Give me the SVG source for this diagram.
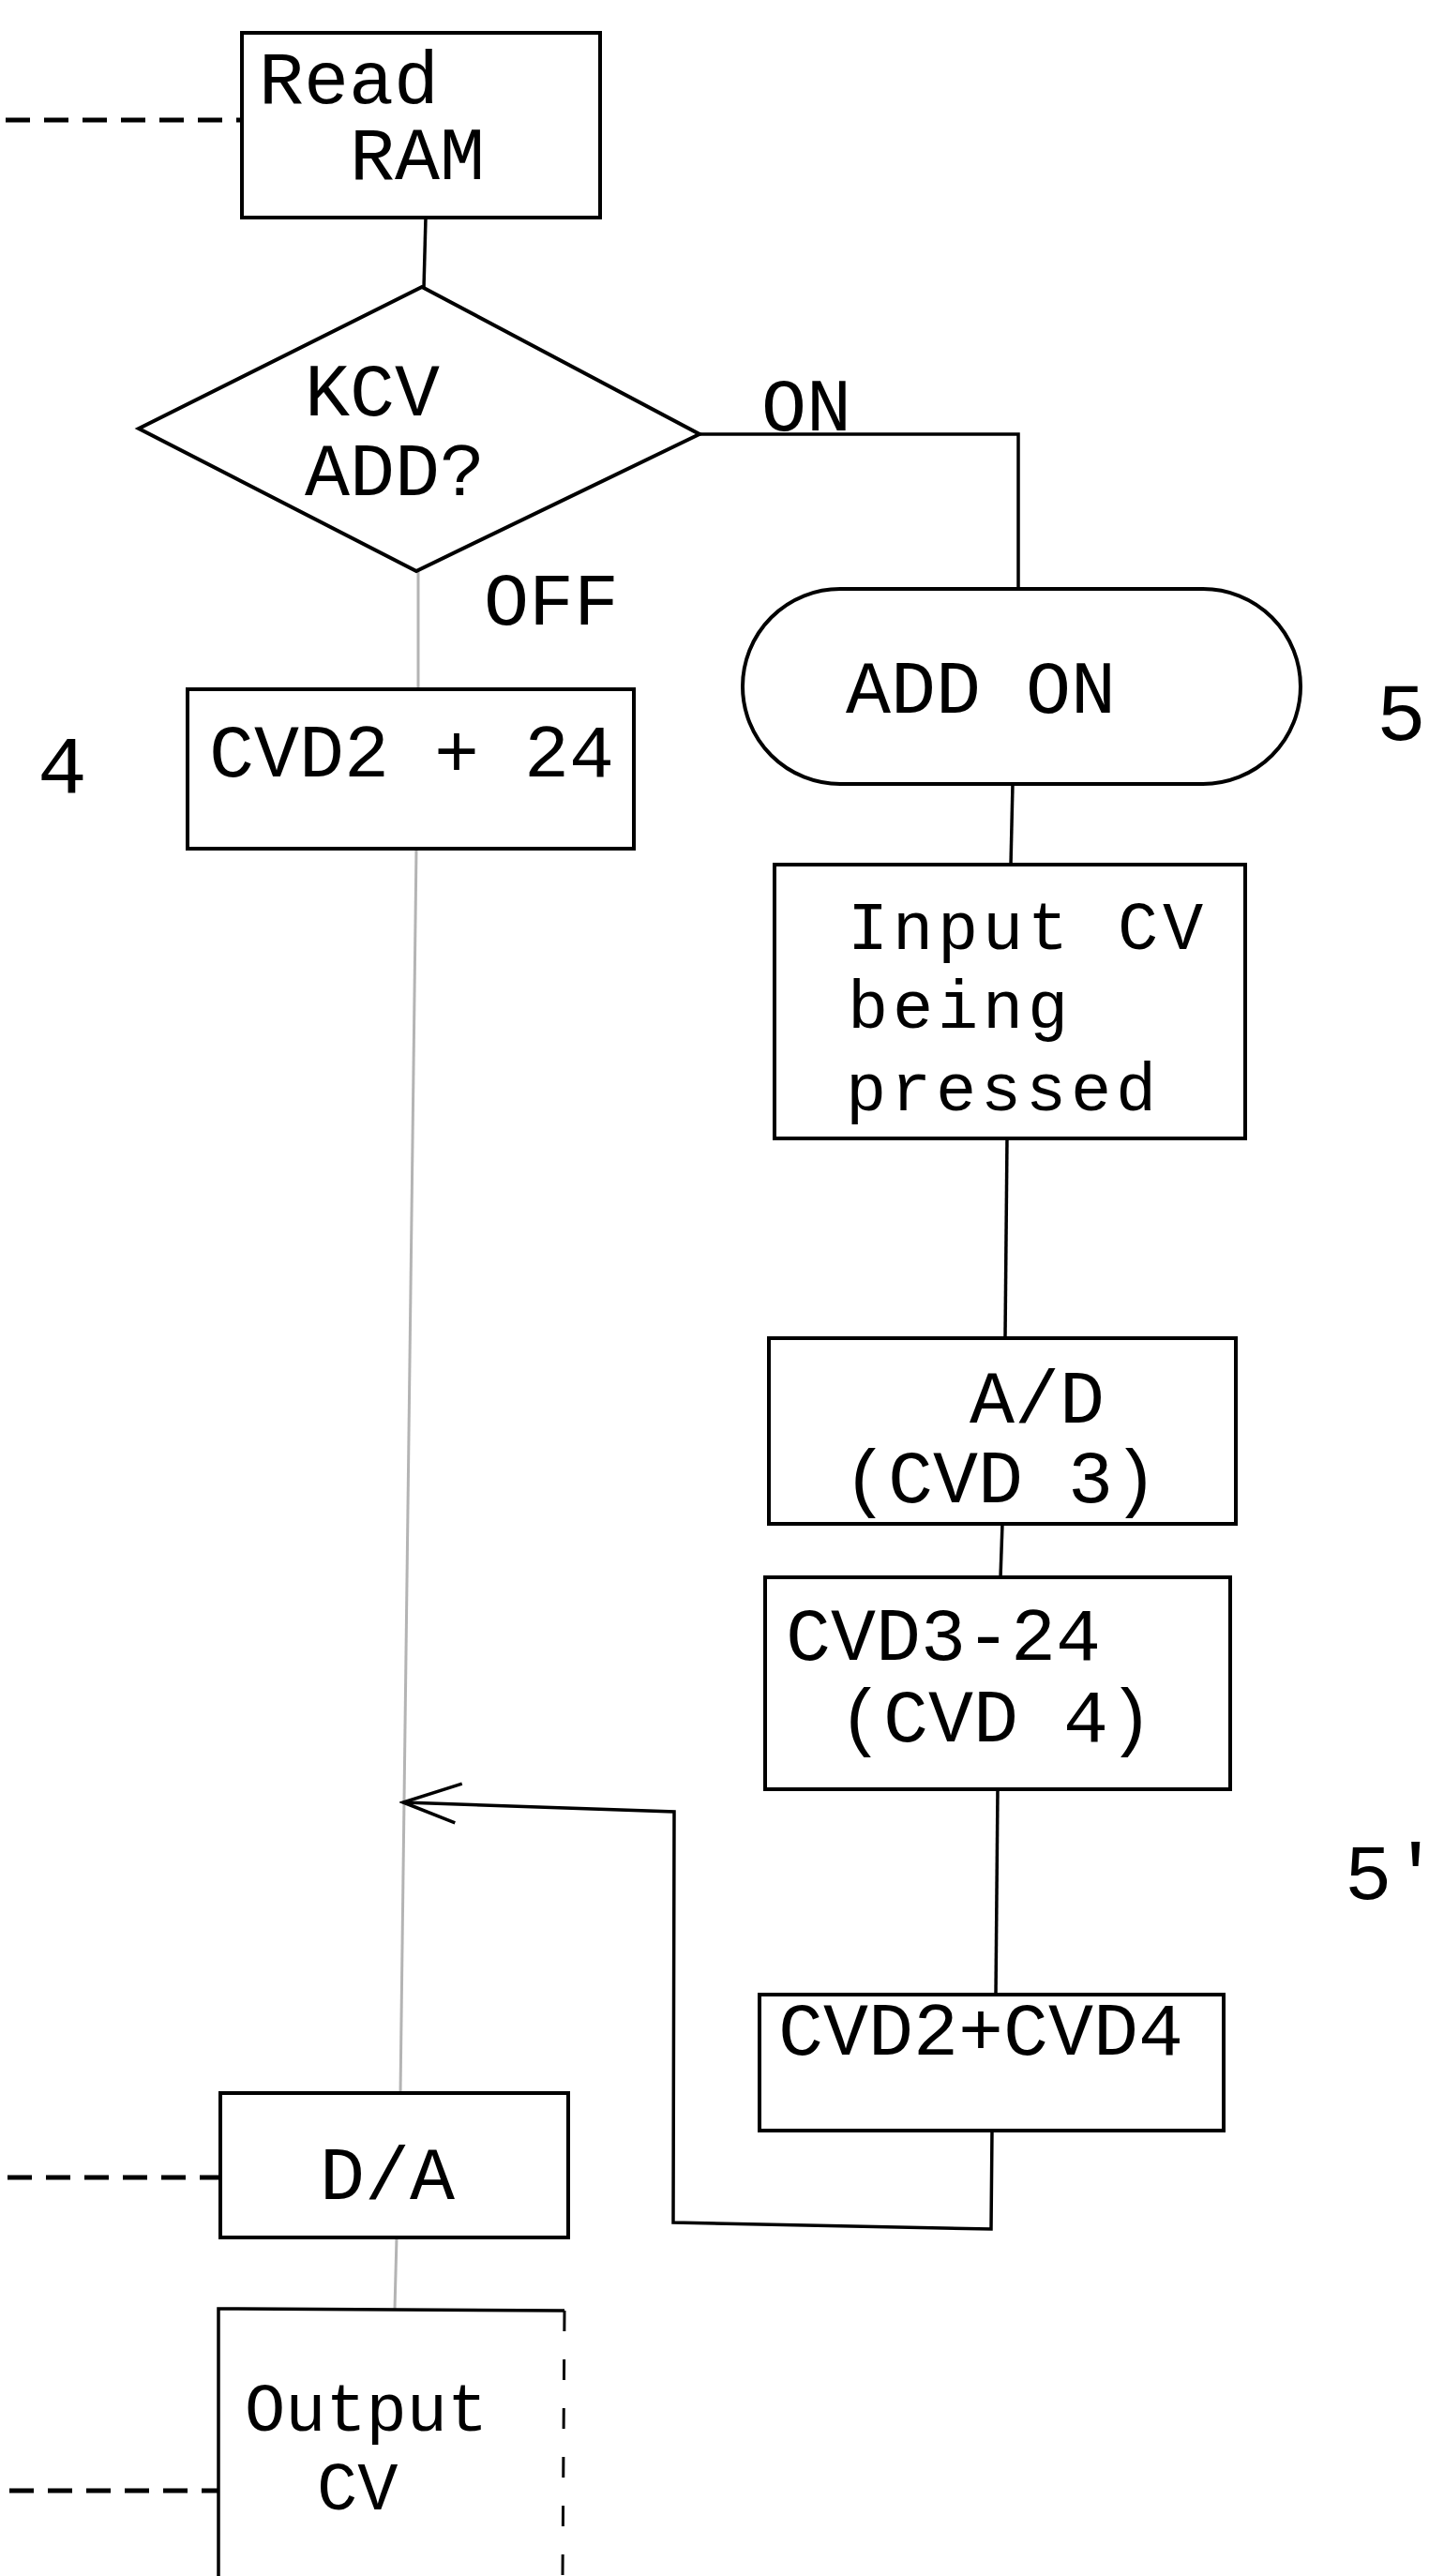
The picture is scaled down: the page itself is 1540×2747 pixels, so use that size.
<svg xmlns="http://www.w3.org/2000/svg" width="1540" height="2747" viewBox="0 0 1540 2747">
<style>
.box{fill:#fff;stroke:#000;stroke-width:4}
.t{font-family:"Liberation Mono",monospace;font-size:80px;fill:#000}
.t2{font-family:"Liberation Mono",monospace;font-size:72px;letter-spacing:4.8px;fill:#000}
.t3{font-family:"Liberation Mono",monospace;font-size:72px;fill:#000}
.n{font-family:"Liberation Mono",monospace;font-size:88px;fill:#000}
.ln{fill:none;stroke:#000;stroke-width:3.5}
.gray{fill:none;stroke:#b4b4b4;stroke-width:3}
.dash{fill:none;stroke:#000;stroke-width:5;stroke-dasharray:26 15}
</style>
<defs>
<marker id="open" markerUnits="userSpaceOnUse" markerWidth="80" markerHeight="60" refX="76" refY="30" orient="auto">
<path d="M20,10 L76,30 L14,52" fill="none" stroke="#000" stroke-width="3.5"/>
</marker>
</defs>
<rect width="1540" height="2747" fill="#fff"/>
<g id="connectors">
<line class="ln" x1="454" y1="232" x2="452" y2="307"/>
<polyline class="ln" points="746,463 1086,463 1086,628"/>
<line class="gray" x1="446" y1="609" x2="446" y2="735"/>
<line class="gray" x1="444" y1="905" x2="427" y2="2232"/>
<line class="gray" x1="423" y1="2386" x2="421" y2="2462"/>
<line class="ln" x1="1080" y1="836" x2="1078" y2="922"/>
<line class="ln" x1="1074" y1="1214" x2="1072" y2="1427"/>
<line class="ln" x1="1069" y1="1625" x2="1067" y2="1682"/>
<line class="ln" x1="1064" y1="1908" x2="1062" y2="2127"/>
<polyline class="ln" points="1058,2272 1057,2377 718,2370 719,1932 430,1922" marker-end="url(#open)"/>
<line class="dash" x1="6" y1="128" x2="258" y2="128"/>
<line class="dash" x1="8" y1="2322" x2="235" y2="2322"/>
<line class="dash" x1="10" y1="2656" x2="233" y2="2656"/>
</g>
<g id="read-ram">
<rect class="box" x="258" y="35" width="382" height="197"/>
<text class="t" x="276" y="110">Read</text>
<text class="t" x="373" y="191">RAM</text>
</g>
<g id="kcv-add">
<polygon class="box" points="450,306 746,463 444,609 148,457"/>
<text class="t" x="325" y="443">KCV</text>
<text class="t" x="325" y="528">ADD?</text>
</g>
<g id="label-on"><text class="t" x="812" y="459">ON</text></g>
<g id="label-off"><text class="t" x="516" y="666">OFF</text></g>
<g id="cvd2-24">
<rect class="box" x="200" y="735" width="476" height="170"/>
<text class="t" x="223" y="828">CVD2 + 24</text>
</g>
<g id="label-4"><text class="n" x="40" y="846">4</text></g>
<g id="add-on">
<rect class="box" x="792" y="628" width="595" height="208" rx="104" ry="104"/>
<text class="t" x="902" y="760">ADD ON</text>
</g>
<g id="label-5"><text class="n" x="1468" y="789">5</text></g>
<g id="input-cv">
<rect class="box" x="826" y="922" width="502" height="292"/>
<text class="t2" x="904" y="1012">Input CV</text>
<text class="t2" x="904" y="1096">being</text>
<text class="t2" x="902" y="1184">pressed</text>
</g>
<g id="a-d">
<rect class="box" x="820" y="1427" width="498" height="198"/>
<text class="t" x="1034" y="1517">A/D</text>
<text class="t" x="899" y="1602">(CVD 3)</text>
</g>
<g id="cvd3-24">
<rect class="box" x="816" y="1682" width="496" height="226"/>
<text class="t" x="838" y="1770">CVD3-24</text>
<text class="t" x="894" y="1857">(CVD 4)</text>
</g>
<g id="cvd2-cvd4">
<rect class="box" x="810" y="2127" width="495" height="145"/>
<text class="t" x="830" y="2191">CVD2+CVD4</text>
</g>
<g id="label-5p"><text class="n" x="1434" y="2025" style="font-size:84px">5'</text></g>
<g id="d-a">
<rect class="box" x="235" y="2232" width="371" height="154"/>
<text class="t" x="341" y="2345">D/A</text>
</g>
<g id="output-cv">
<path class="ln" d="M233,2747 L233,2462 L602,2464"/>
<line x1="602" y1="2464" x2="600" y2="2747" stroke="#000" stroke-width="3" stroke-dasharray="22 30"/>
<text class="t3" x="261" y="2592">Output</text>
<text class="t3" x="338" y="2676">CV</text>
</g>
</svg>
